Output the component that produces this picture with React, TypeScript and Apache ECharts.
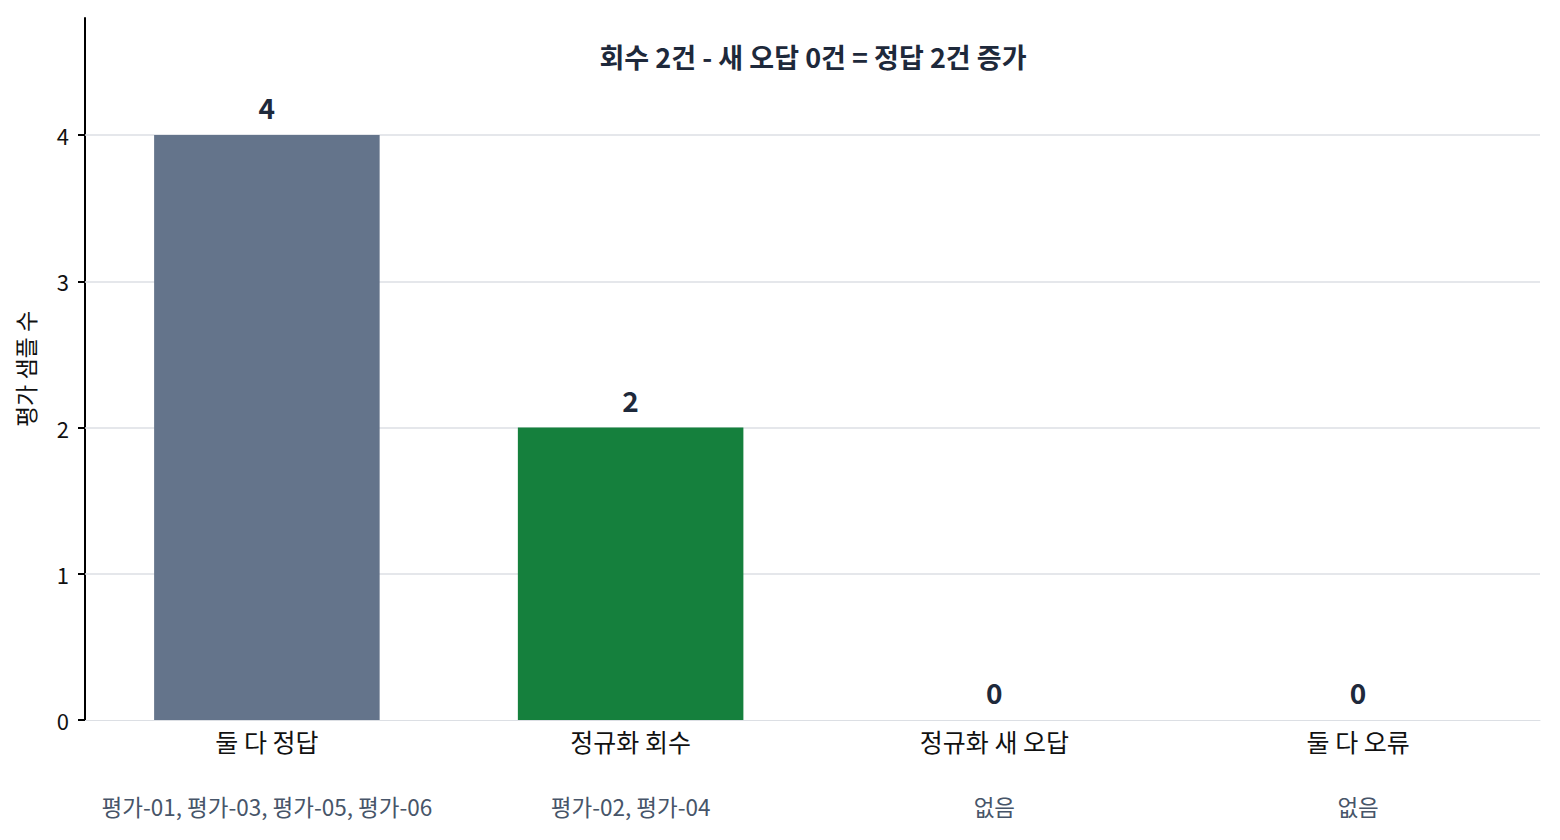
import React, { useEffect, useRef } from 'react';
import * as echarts from 'echarts';

const categories = ['둘 다 정답', '정규화 회수', '정규화 새 오답', '둘 다 오류'];
const sampleLabels = ['평가-01, 평가-03, 평가-05, 평가-06', '평가-02, 평가-04', '없음', '없음'];
const sampleCounts = [4, 2, 0, 0];
const barColors = ['#64748b', '#15803d', '#b91c1c', '#b45309'];
const yTicks = [0, 1, 2, 3, 4];
const gridValues = [1, 2, 3, 4];
const chartTitle = '회수 2건 - 새 오답 0건 = 정답 2건 증가';
const yName = '평가 샘플 수';

const FONT = '"Noto Sans CJK KR", "Noto Sans", sans-serif';

const App: React.FC = () => {
    const chartRef = useRef<HTMLDivElement>(null);

    useEffect(() => {
        const chart = echarts.init(chartRef.current!, undefined, { renderer: 'svg' });
        const options: echarts.EChartsOption = {
            animation: false,
            textStyle: { fontFamily: FONT },
            grid: { left: 77, right: 12, top: 10, bottom: 112, outerBoundsMode: 'none' } as any,
            graphic: [
                {
                    type: 'text',
                    x: 805,
                    y: 48,
                    style: {
                        text: chartTitle,
                        font: `bold 27px ${FONT}`,
                        fill: '#1e293b',
                        align: 'center',
                        verticalAlign: 'middle',
                    },
                },
            ],
            xAxis: {
                type: 'category',
                data: categories,
                axisLine: { show: true, lineStyle: { color: '#dcdfe4', width: 1 } },
                axisTick: { show: false },
                axisLabel: {
                    margin: 8,
                    interval: 0,
                    formatter: (value: string, index: number) =>
                        `{a|${value}}\n{b|${sampleLabels[index]}}`,
                    rich: {
                        a: { fontSize: 25, lineHeight: 25, color: '#111111', fontFamily: FONT },
                        b: { fontSize: 22.5, lineHeight: 106, color: '#475569', fontFamily: FONT },
                    },
                },
            },
            yAxis: {
                type: 'value',
                min: 0,
                max: 4.8,
                interval: 1,
                name: yName,
                nameLocation: 'middle',
                nameGap: 49,
                nameTextStyle: { fontSize: 23, color: '#111111', fontFamily: FONT },
                axisLine: { show: true, lineStyle: { color: '#000000', width: 2 } },
                axisTick: {
                    show: true,
                    length: 7,
                    customValues: yTicks,
                    lineStyle: { color: '#000000', width: 2 },
                },
                axisLabel: {
                    margin: 16,
                    customValues: yTicks,
                    fontSize: 22,
                    color: '#111111',
                    fontFamily: FONT,
                },
                splitLine: { show: false },
            },
            series: [
                {
                    type: 'bar',
                    barWidth: '62%',
                    data: sampleCounts.map((v, i) => ({ value: v, itemStyle: { color: barColors[i] } })),
                    label: {
                        show: true,
                        position: 'top',
                        distance: 14,
                        fontSize: 28,
                        fontWeight: 'bold',
                        color: '#1e293b',
                        fontFamily: FONT,
                    },
                    markLine: {
                        silent: true,
                        z: 1,
                        symbol: 'none',
                        label: { show: false },
                        lineStyle: { color: '#dcdfe4', width: 1.5, type: 'solid' },
                        data: gridValues.map((v) => ({ yAxis: v })),
                    },
                },
            ],
        };
        chart.setOption(options);
        return () => {
            chart.dispose();
        };
    }, []);

    return <div ref={chartRef} style={{ width: 1544, height: 824 }} />;
};

export default App;
